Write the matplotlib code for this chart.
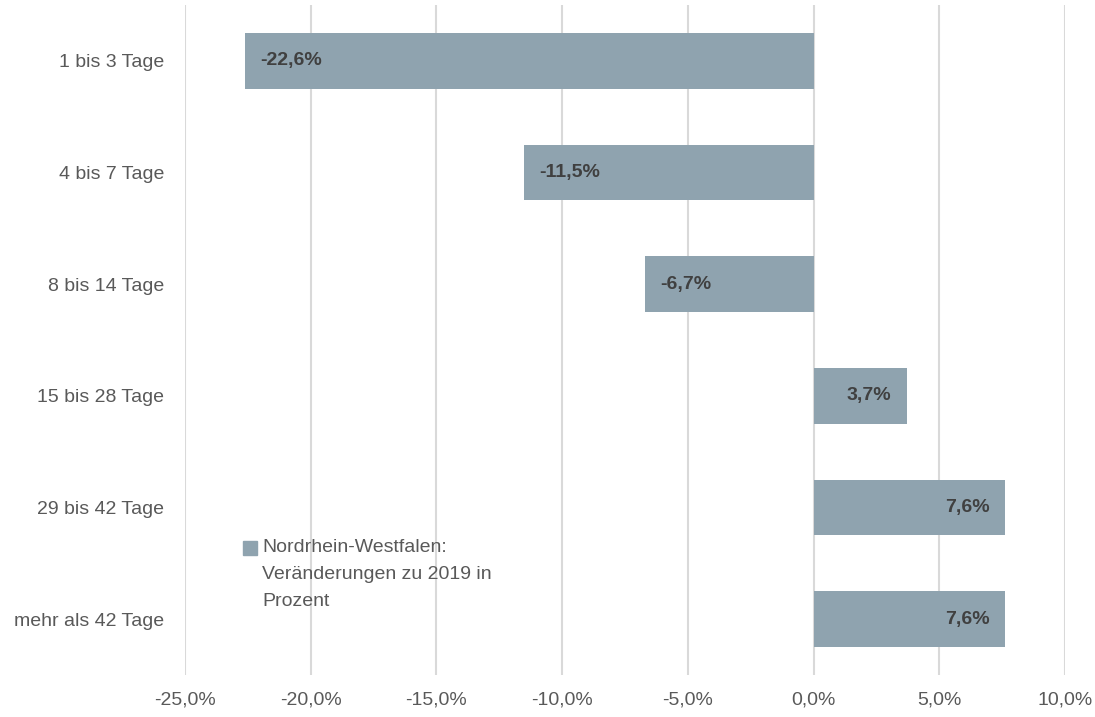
import matplotlib
matplotlib.use('Agg')
import matplotlib.pyplot as plt
from matplotlib.patches import Rectangle
import numpy as np

categories = ["1 bis 3 Tage", "4 bis 7 Tage", "8 bis 14 Tage",
              "15 bis 28 Tage", "29 bis 42 Tage", "mehr als 42 Tage"]
values = [-22.6, -11.5, -6.7, 3.7, 7.6, 7.6]
xticks = [-25, -20, -15, -10, -5, 0, 5, 10]
legend_label = "Nordrhein-Westfalen:\nVeränderungen zu 2019 in\nProzent"

plt.rcParams['font.family'] = ['Liberation Sans', 'DejaVu Sans']

bar_col = '#8FA3AF'
fig = plt.figure(figsize=(10.95, 7.17), dpi=100)
ax = fig.add_axes([185/1095, 1 - 675/717, 880/1095, 670/717])

y = np.arange(len(categories))
ax.barh(y, values, height=0.5, color=bar_col, zorder=3)

def fmt(v):
    return ("%.1f%%" % v).replace('.', ',')

for yi, v in zip(y, values):
    if v < 0:
        ax.text(v + 0.6, yi, fmt(v), ha='left', va='center', fontsize=14,
                fontweight='bold', color='#404040', zorder=4)
    else:
        ax.text(v - 0.6, yi, fmt(v), ha='right', va='center', fontsize=14,
                fontweight='bold', color='#404040', zorder=4)

ax.set_xlim(-25, 10)
ax.set_ylim(len(categories) - 0.5, -0.5)
ax.set_xticks(xticks)
ax.set_xticklabels([fmt(t) for t in xticks])
ax.set_yticks(y)
ax.set_yticklabels(categories)
ax.tick_params(axis='both', length=0, labelsize=14, labelcolor='#595959')
ax.tick_params(axis='x', pad=12)
ax.tick_params(axis='y', pad=15)
ax.grid(axis='x', color='#D9D9D9', linewidth=1.5, zorder=0)
for s in ax.spines.values():
    s.set_visible(False)

# legend drawn by hand: square + three lines of text (figure pixel coords)
fig.patches.append(Rectangle((243/1095, 1 - 555/717), 14/1095, 14/717,
                             transform=fig.transFigure, color=bar_col))
fig.text(262/1095, 1 - 539/717, legend_label, ha='left', va='top',
         fontsize=14, color='#595959', linespacing=1.78)

fig.savefig('out.png', dpi=100)
